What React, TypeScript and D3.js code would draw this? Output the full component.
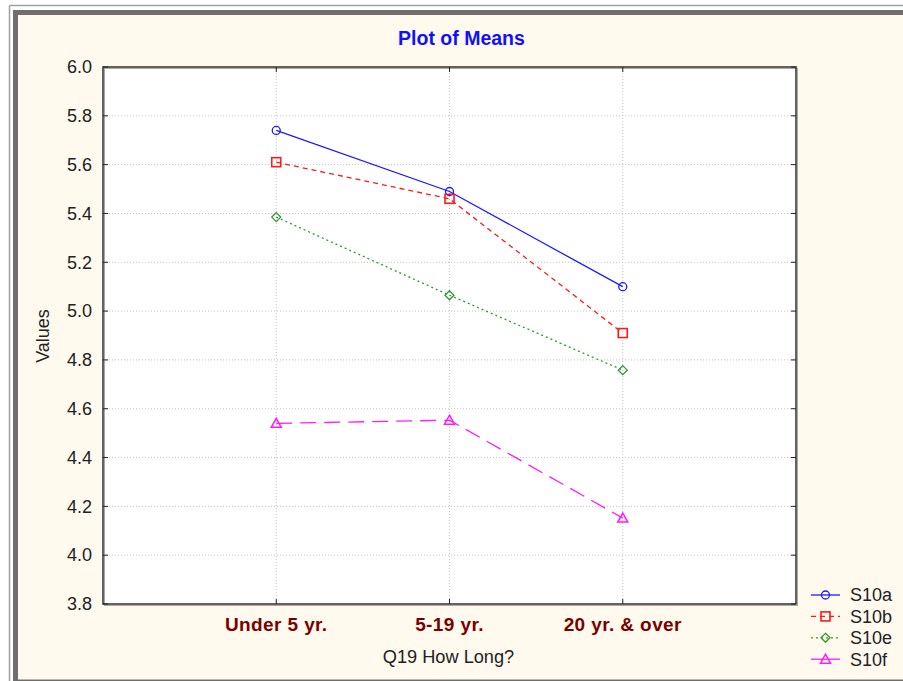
import React from "react";
import * as d3 from "d3";

const categories = ["Under 5 yr.", "5-19 yr.", "20 yr. & over"];
const s10a = [5.74, 5.49, 5.10];
const s10b = [5.61, 5.46, 4.91];
const s10e = [5.385, 5.065, 4.758];
const s10f = [4.54, 4.553, 4.152];
const yTicks = [3.8, 4.0, 4.2, 4.4, 4.6, 4.8, 5.0, 5.2, 5.4, 5.6, 5.8, 6.0];

const W = 903, H = 681;
const plot = { left: 103, top: 67, right: 796, bottom: 604 };

type Series = { name: string; values: number[]; color: string; dash: string; marker: string };
const series: Series[] = [
  { name: "S10a", values: s10a, color: "#1a1aff", dash: "", marker: "circle" },
  { name: "S10b", values: s10b, color: "#ff1a1a", dash: "5,4", marker: "square" },
  { name: "S10e", values: s10e, color: "#2e9a2e", dash: "2,3", marker: "diamond" },
  { name: "S10f", values: s10f, color: "#ff1aff", dash: "16,8", marker: "triangle" },
];

function Marker({ type, x, y, color }: { type: string; x: number; y: number; color: string }) {
  if (type === "circle") return <circle cx={x} cy={y} r={4} fill="none" stroke={color} strokeWidth={1.3} />;
  if (type === "square") return <rect x={x - 4.5} y={y - 4.5} width={9} height={9} fill="none" stroke={color} strokeWidth={1.6} />;
  if (type === "diamond") return <path d={`M${x},${y - 4.5}L${x + 4.5},${y}L${x},${y + 4.5}L${x - 4.5},${y}Z`} fill="none" stroke={color} strokeWidth={1.3} />;
  return <path d={`M${x},${y - 5}L${x + 5},${y + 4}L${x - 5},${y + 4}Z`} fill="none" stroke={color} strokeWidth={1.5} />;
}

export default function App() {
  const x = d3.scalePoint<number>().domain([0, 1, 2, 3, 4]).range([plot.left, plot.right]);
  const y = d3.scaleLinear().domain([3.8, 6.0]).range([plot.bottom, plot.top]);
  const line = d3.line<number>().x((_, i) => x(i + 1)!).y((d) => y(d));
  const font = "Arial, 'Liberation Sans', sans-serif";

  return (
    <div style={{ position: "absolute", left: 0, top: 0 }}>
      <svg width={W} height={H} style={{ display: "block" }}>
        <rect x={0} y={0} width={W} height={H} fill="#ffffff" />
        {/* outer frame */}
        <line x1={9.5} y1={5.5} x2={W} y2={5.5} stroke="#a0a0a8" strokeWidth={1.5} />
        <line x1={9.5} y1={5.5} x2={9.5} y2={H} stroke="#a0a0a8" strokeWidth={1.5} />
        <rect x={13} y={10} width={W - 13} height={H - 10} fill="#6e6e6e" />
        <rect x={18} y={15} width={W - 18} height={H - 15 - 2} fill="#fff9ee" />
        <line x1={18} y1={679.5} x2={W} y2={679.5} stroke="#b8b8b8" strokeWidth={1} />

        {/* title */}
        <text x={461.5} y={45} textAnchor="middle" fontFamily={font} fontWeight="bold" fontSize={19.5} fill="#1010ff">
          Plot of Means
        </text>

        {/* plot area */}
        <rect x={plot.left} y={plot.top} width={plot.right - plot.left} height={plot.bottom - plot.top} fill="#ffffff" />
        {/* grid */}
        {yTicks.slice(1, -1).map((t) => (
          <line key={"gy" + t} x1={plot.left} x2={plot.right} y1={y(t)} y2={y(t)} stroke="#c4c4c4" strokeDasharray="1,2" />
        ))}
        {categories.map((c, i) => (
          <line key={"gx" + c} x1={x(i + 1)} x2={x(i + 1)} y1={plot.top} y2={plot.bottom} stroke="#c4c4c4" strokeDasharray="1,2" />
        ))}
        {/* frame with shadow */}
        <rect x={plot.left + 1.5} y={plot.top + 1.5} width={plot.right - plot.left} height={plot.bottom - plot.top} fill="none" stroke="#a8a8a8" strokeWidth={1} />
        <rect x={plot.left} y={plot.top} width={plot.right - plot.left} height={plot.bottom - plot.top} fill="none" stroke="#3c3c3c" strokeWidth={1.6} />

        {/* y ticks */}
        {yTicks.map((t) => (
          <g key={"yt" + t}>
            <line x1={plot.left} x2={plot.left + 5} y1={y(t)} y2={y(t)} stroke="#222" />
            <line x1={plot.right - 5} x2={plot.right} y1={y(t)} y2={y(t)} stroke="#222" />
            <text x={92} y={y(t)} dy="0.35em" textAnchor="end" fontFamily={font} fontSize={18} fill="#222">
              {d3.format(".1f")(t)}
            </text>
          </g>
        ))}
        {/* x ticks */}
        {categories.map((c, i) => (
          <g key={"xt" + c}>
            <line x1={x(i + 1)} x2={x(i + 1)} y1={plot.bottom} y2={plot.bottom - 5} stroke="#222" />
            <line x1={x(i + 1)} x2={x(i + 1)} y1={plot.top} y2={plot.top + 5} stroke="#222" />
            <text x={x(i + 1)} y={631} textAnchor="middle" fontFamily={font} fontWeight="bold" fontSize={19} letterSpacing={0.4} fill="#7a0000">
              {c}
            </text>
          </g>
        ))}

        {/* axis titles */}
        <text x={448.5} y={663} textAnchor="middle" fontFamily={font} fontSize={18.2} fill="#222">
          Q19 How Long?
        </text>
        <text transform="translate(49,336) rotate(-90)" textAnchor="middle" fontFamily={font} fontSize={18} fill="#222">
          Values
        </text>

        {/* series */}
        {series.map((s) => (
          <g key={s.name}>
            <path d={line(s.values) || ""} fill="none" stroke={s.color} strokeWidth={1.3} strokeDasharray={s.dash || undefined} />
            {s.values.map((v, i) => (
              <Marker key={i} type={s.marker} x={x(i + 1)!} y={y(v)} color={s.color} />
            ))}
          </g>
        ))}

        {/* legend */}
        {series.map((s, i) => {
          const ly = 595 + i * 21.4;
          return (
            <g key={"lg" + s.name}>
              <line x1={811} x2={840} y1={ly} y2={ly} stroke={s.color} strokeWidth={1.3} strokeDasharray={s.name === "S10f" ? undefined : s.dash || undefined} />
              <Marker type={s.marker} x={825.5} y={ly} color={s.color} />
              <text x={850} y={ly} dy="0.35em" fontFamily={font} fontSize={18} fill="#222">
                {s.name}
              </text>
            </g>
          );
        })}
      </svg>
    </div>
  );
}
